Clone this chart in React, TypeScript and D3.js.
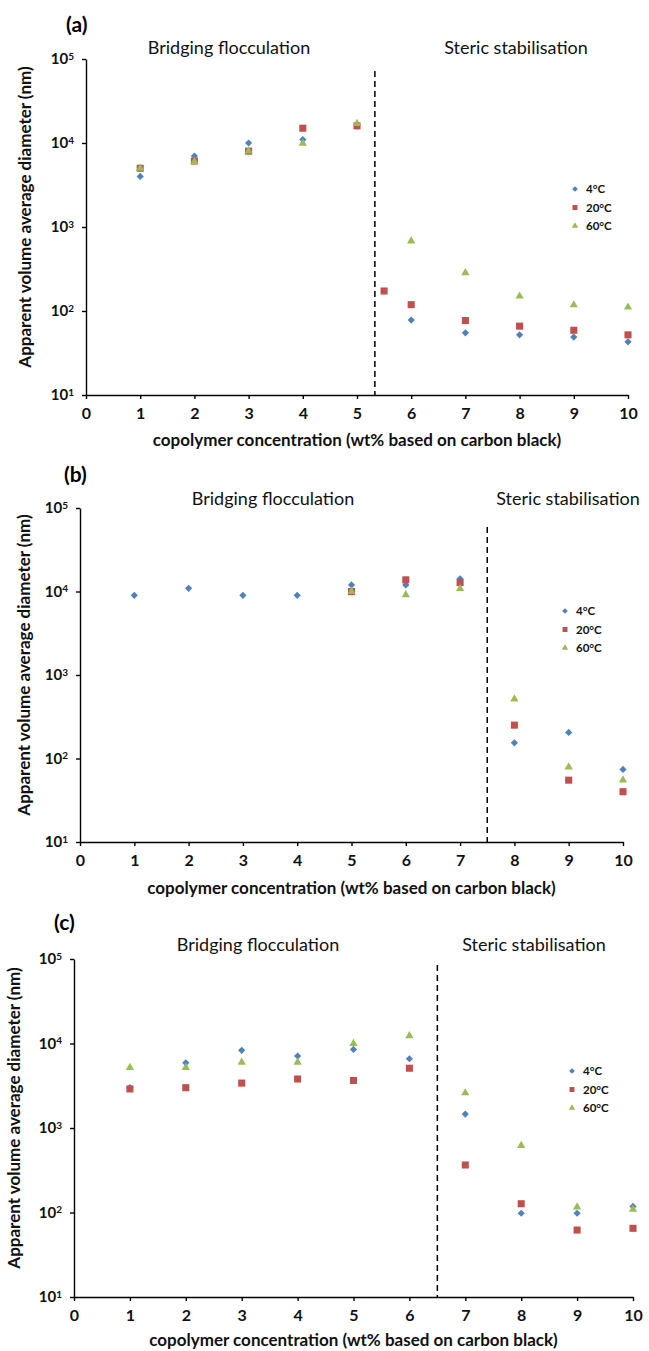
import React, { useRef, useEffect } from 'react';
import * as d3 from 'd3';

// x categories (copolymer concentration, wt%)
const concentrations = [1, 2, 3, 4, 5, 6, 7, 8, 9, 10];
const xTicks = [0, 1, 2, 3, 4, 5, 6, 7, 8, 9, 10];
const yTicks = [10, 100, 1000, 10000, 100000];
const seriesLabels = ['4°C', '20°C', '60°C'];
const regionLabels = ['Bridging flocculation', 'Steric stabilisation'];
const panelLabels = ['(a)', '(b)', '(c)'];
const dividers = [5.33, 7.5, 6.5];

// panel (a)
const a20Conc = [1, 2, 3, 4, 5, 5.5, 6, 7, 8, 9, 10];
const a4 = [4000, 7000, 10000, 11000, 16000, 78, 55, 52, 49, 43];
const a20 = [5000, 6100, 8000, 15000, 16000, 173, 119, 77, 66, 59, 52];
const a60 = [5000, 6000, 8000, 9900, 17000, 680, 285, 150, 118, 111];

// panel (b)
const b2060Conc = [5, 6, 7, 8, 9, 10];
const b4 = [9000, 10900, 9000, 9000, 12000, 12000, 14200, 154, 205, 74];
const b20 = [10000, 13800, 12800, 251, 55, 40];
const b60 = [10000, 9100, 10800, 515, 79, 55];

// panel (c)
const c4 = [3000, 5900, 8300, 7100, 8500, 6600, 1460, 98, 98, 118];
const c20 = [2900, 3000, 3400, 3800, 3650, 5100, 365, 127, 62, 65];
const c60 = [5200, 5200, 6000, 6000, 10000, 12300, 2600, 620, 116, 109];

const COLORS = ['#4f81bd', '#c0504d', '#9bbb59'];
const FONT = 'Lato, Carlito, Calibri, sans-serif';

type Layout = {
  left: number; right: number; top: number; bottom: number;
  divTop: number; labelX: number; labelY: number; titleY: number;
  bridgingX: number; stericX: number; legendX: number; legendY: number;
  yTitleX: number; xTitleY: number;
};

const layouts: Layout[] = [
  { left: 86, right: 628, top: 59, bottom: 395, divTop: 71, labelX: 66, labelY: 32, titleY: 54,
    bridgingX: 229, stericX: 516, legendX: 575, legendY: 189, yTitleX: 31, xTitleY: 446 },
  { left: 80, right: 623, top: 508, bottom: 842, divTop: 527, labelX: 64, labelY: 482, titleY: 505,
    bridgingX: 273, stericX: 568, legendX: 565, legendY: 611, yTitleX: 30, xTitleY: 894 },
  { left: 74, right: 633, top: 959, bottom: 1297, divTop: 965, labelX: 54, labelY: 930, titleY: 951,
    bridgingX: 258, stericX: 534, legendX: 572, legendY: 1071, yTitleX: 20, xTitleY: 1346 },
];

const panelSeries = [
  [
    { x: concentrations, y: a4 },
    { x: a20Conc, y: a20 },
    { x: concentrations, y: a60 },
  ],
  [
    { x: concentrations, y: b4 },
    { x: b2060Conc, y: b20 },
    { x: b2060Conc, y: b60 },
  ],
  [
    { x: concentrations, y: c4 },
    { x: concentrations, y: c20 },
    { x: concentrations, y: c60 },
  ],
];

const markerPath = (i: number, legend: boolean) => {
  if (i === 0) return d3.symbol(d3.symbolSquare, legend ? 16 : 26)();
  if (i === 1) return d3.symbol(d3.symbolSquare, legend ? 25 : 50)();
  return d3.symbol(d3.symbolTriangle, legend ? 18 : 30)();
};

const App: React.FC = () => {
  const svgRef = useRef<SVGSVGElement>(null);

  useEffect(() => {
    if (!svgRef.current) return;
    const svg = d3.select(svgRef.current);
    svg.selectAll('*').remove();

    layouts.forEach((L, p) => {
      const g = svg.append('g');
      const x = d3.scaleLinear().domain([0, 10]).range([L.left, L.right]);
      const y = d3.scaleLog().domain([10, 100000]).range([L.bottom, L.top]);

      // x axis
      const xAxis = g.append('g')
        .attr('transform', `translate(0,${L.bottom})`)
        .call(d3.axisBottom(x).tickValues(xTicks).tickFormat(d3.format('d')).tickSize(4).tickSizeOuter(0).tickPadding(9));
      xAxis.selectAll('text')
        .attr('fill', '#111')
        .style('font-family', FONT)
        .style('font-size', '16px')
        .style('font-weight', 'bold');

      // y axis
      const yAxis = g.append('g')
        .attr('transform', `translate(${L.left},0)`)
        .call(d3.axisLeft(y).tickValues(yTicks).tickSize(4).tickSizeOuter(0).tickPadding(8).tickFormat(() => ''));
      yAxis.selectAll('.tick text').each(function (d) {
        const t = d3.select(this);
        t.attr('fill', '#111')
          .style('font-family', FONT)
          .style('font-size', '15px')
          .style('font-weight', 'bold');
        t.append('tspan').text('10');
        t.append('tspan')
          .attr('dy', '-0.45em')
          .style('font-size', '10px')
          .text(String(Math.round(Math.log10(d as number))));
      });
      g.selectAll('.domain').attr('stroke', '#000').attr('stroke-width', 1.4);
      g.selectAll('.tick line').attr('stroke', '#000').attr('stroke-width', 1.4);

      // divider
      g.append('line')
        .attr('x1', x(dividers[p])).attr('x2', x(dividers[p]))
        .attr('y1', L.divTop).attr('y2', L.bottom)
        .attr('stroke', '#000')
        .attr('stroke-width', 1.5)
        .attr('stroke-dasharray', '6,4');

      // points
      panelSeries[p].forEach((s, i) => {
        g.append('g')
          .selectAll('path')
          .data(s.y)
          .join('path')
          .attr('d', markerPath(i, false))
          .attr('transform', (v, k) => `translate(${x(s.x[k])},${y(v)})${i === 0 ? ' rotate(45)' : ''}`)
          .attr('fill', COLORS[i]);
      });

      // legend
      seriesLabels.forEach((lab, i) => {
        const ly = L.legendY + i * 18.5;
        g.append('path')
          .attr('d', markerPath(i, true))
          .attr('transform', `translate(${L.legendX},${ly})${i === 0 ? ' rotate(45)' : ''}`)
          .attr('fill', COLORS[i]);
        g.append('text')
          .attr('x', L.legendX + 11)
          .attr('y', ly)
          .attr('dy', '0.35em')
          .attr('fill', '#111')
          .style('font-family', FONT)
          .style('font-size', '11.5px')
          .style('font-weight', 'bold')
          .text(lab);
      });

      // region labels
      [L.bridgingX, L.stericX].forEach((cx, i) => {
        g.append('text')
          .attr('x', cx)
          .attr('y', L.titleY)
          .attr('text-anchor', 'middle')
          .attr('fill', '#111')
          .style('font-family', FONT)
          .style('font-size', '18px')
          .text(regionLabels[i]);
      });

      // panel label
      g.append('text')
        .attr('x', L.labelX)
        .attr('y', L.labelY)
        .attr('fill', '#000')
        .style('font-family', FONT)
        .style('font-size', '21px')
        .style('font-weight', 'bold')
        .text(panelLabels[p]);

      // axis titles
      g.append('text')
        .attr('transform', `translate(${L.yTitleX},${(L.top + L.bottom) / 2 - 10}) rotate(-90)`)
        .attr('text-anchor', 'middle')
        .attr('fill', '#111')
        .style('font-family', FONT)
        .style('font-size', '17px')
        .style('font-weight', 'bold')
        .text('Apparent volume average diameter (nm)');

      g.append('text')
        .attr('x', (L.left + L.right) / 2)
        .attr('y', L.xTitleY)
        .attr('text-anchor', 'middle')
        .attr('fill', '#111')
        .style('font-family', FONT)
        .style('font-size', '17px')
        .style('font-weight', 'bold')
        .text('copolymer concentration (wt% based on carbon black)');
    });
  }, []);

  return (
    <svg
      ref={svgRef}
      width={649}
      height={1351}
      style={{ position: 'absolute', left: 0, top: 0, background: '#fff' }}
    />
  );
};

export default App;
